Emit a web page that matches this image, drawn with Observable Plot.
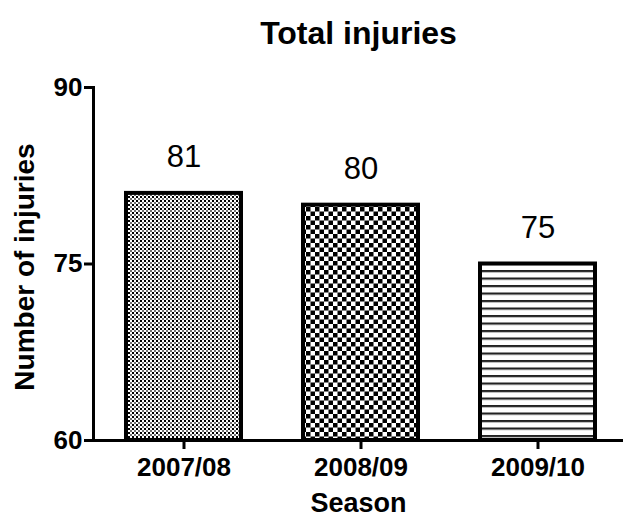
<!DOCTYPE html>
<html>
<head>
<meta charset="utf-8">
<script src="https://cdn.jsdelivr.net/npm/d3@7"></script>
<script src="https://cdn.jsdelivr.net/npm/@observablehq/plot@0.6"></script>
<style>
  html, body { margin: 0; padding: 0; background: #fff; }
</style>
</head>
<body>
<div id="chart"></div>
<script>
// Total injuries per season
const seasons = ["2007/08", "2008/09", "2009/10"];
const injuries = [81, 80, 75];
const yTicks = [60, 75, 90];

const rows = seasons.map((season, i) => ({season, injuries: injuries[i]}));

const font = "'Liberation Sans', Arial, Helvetica, sans-serif";
const fills = ["url(#pat-fine)", "url(#pat-checker)", "url(#pat-lines)"];

const chart = Plot.plot({
  width: 623,
  height: 518,
  marginLeft: 93,
  marginRight: 0,
  marginTop: 87,
  marginBottom: 78,
  style: {fontFamily: font, fontWeight: "bold", color: "#000", background: "#fff"},
  x: {domain: seasons, type: "band", paddingInner: 0.35, paddingOuter: 0.18, range: [93, 628]},
  y: {domain: [60, 90]},
  color: {domain: seasons, range: fills},
  marks: [
    Plot.barY(rows, {x: "season", y1: 60, y2: "injuries", fill: "season", stroke: "#000", strokeWidth: 4}),
    Plot.text(rows, {x: "season", y: "injuries", text: d => String(d.injuries), lineAnchor: "bottom", dy: -26, fontSize: 31, fontWeight: "normal", fill: "#000"}),
    Plot.ruleY([60], {stroke: "#000", strokeWidth: 3}),
    Plot.frame({anchor: "left", stroke: "#000", strokeWidth: 3}),
    Plot.axisY({ticks: yTicks, tickSize: 9, tickPadding: 2, fontSize: 26, strokeWidth: 3, label: null}),
    Plot.axisX({tickSize: 9, tickPadding: 8, fontSize: 26, strokeWidth: 3, label: null}),
    Plot.text(["Total injuries"], {frameAnchor: "top", lineAnchor: "bottom", dy: -44, fontSize: 32, fill: "#000"}),
    Plot.text(["Number of injuries"], {frameAnchor: "left", textAnchor: "middle", lineAnchor: "bottom", rotate: -90, dx: -60, dy: 3, fontSize: 28, fill: "#000"}),
    Plot.text(["Season"], {frameAnchor: "bottom", lineAnchor: "bottom", dy: 71, fontSize: 27, fill: "#000"})
  ]
});

// Hatch patterns used as bar fills
const svg = d3.select(chart);
const defs = svg.insert("defs", ":first-child");

const fine = defs.append("pattern").attr("id", "pat-fine")
  .attr("patternUnits", "userSpaceOnUse").attr("width", 4).attr("height", 4);
fine.append("rect").attr("width", 4).attr("height", 4).attr("fill", "#fff");
fine.append("rect").attr("width", 2).attr("height", 2).attr("fill", "#000");
fine.append("rect").attr("x", 2).attr("y", 2).attr("width", 2).attr("height", 2).attr("fill", "#707070");

const checker = defs.append("pattern").attr("id", "pat-checker")
  .attr("patternUnits", "userSpaceOnUse").attr("width", 9).attr("height", 9);
checker.append("rect").attr("width", 9).attr("height", 9).attr("fill", "#fff");
checker.append("rect").attr("width", 4.5).attr("height", 4.5).attr("fill", "#000");
checker.append("rect").attr("x", 4.5).attr("y", 4.5).attr("width", 4.5).attr("height", 4.5).attr("fill", "#000");

const lines = defs.append("pattern").attr("id", "pat-lines")
  .attr("patternUnits", "userSpaceOnUse").attr("width", 10).attr("height", 7.5);
lines.append("rect").attr("width", 10).attr("height", 7.5).attr("fill", "#fff");
lines.append("rect").attr("y", 0).attr("width", 10).attr("height", 2.2).attr("fill", "#222");

document.getElementById("chart").appendChild(chart);
</script>
</body>
</html>
